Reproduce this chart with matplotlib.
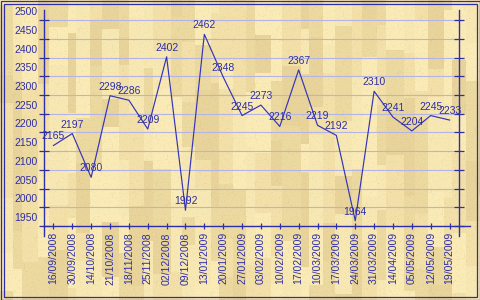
import numpy as np
import matplotlib
matplotlib.use("Agg")
import matplotlib.pyplot as plt
from matplotlib.transforms import ScaledTranslation
from matplotlib.patches import Rectangle

# data
dates = ["16/09/2008", "30/09/2008", "14/10/2008", "21/10/2008", "18/11/2008",
         "25/11/2008", "02/12/2008", "09/12/2008", "13/01/2009", "20/01/2009",
         "27/01/2009", "03/02/2009", "10/02/2009", "17/02/2009", "10/03/2009",
         "17/03/2009", "24/03/2009", "31/03/2009", "14/04/2009", "05/05/2009",
         "12/05/2009", "19/05/2009"]
values = [2165, 2197, 2080, 2298, 2286, 2209, 2402, 1992, 2462, 2348, 2245,
          2273, 2216, 2367, 2219, 2192, 1964, 2310, 2241, 2204, 2245, 2233]
y_ticks = list(range(1950, 2501, 50))

blue = "#2e2ea6"
font = "Liberation Sans"
fs = 7.5

# background "wood" texture (decoration only)
shades = np.array([[250, 234, 182], [242, 224, 168], [236, 217, 160], [247, 231, 178],
                   [232, 212, 154]]) / 255.0
stripe_w = [13, 9, 16, 11, 19, 8, 14, 12, 17, 10, 15, 9, 18, 11, 13, 16, 8, 14]
block_h = [45, 70, 28, 95, 55, 38, 80, 60]
tex = np.zeros((300, 480, 3))
x0, i = 0, 0
while x0 < 480:
    w = stripe_w[i % len(stripe_w)]
    y0, j = (i * 23) % 40 - 40, 0
    while y0 < 300:
        h = block_h[(i + j) % len(block_h)]
        c = shades[(i * 3 + j * 2 + (i * j) % 3) % len(shades)]
        tex[max(y0, 0):max(y0 + h, 0), x0:x0 + w] = c
        y0 += h
        j += 1
    x0 += w
    i += 1
yy, xx = np.mgrid[0:300, 0:480]
speck = ((xx * 13 + yy * 7 + (xx * yy) % 11) % 9 == 0)
tex[speck] *= 0.97

fig = plt.figure(figsize=(4.8, 3), dpi=100)
bg = fig.add_axes([0, 0, 1, 1])
bg.imshow(tex, aspect="auto", extent=[0, 480, 300, 0], interpolation="nearest")
bg.set_xlim(0, 480)
bg.set_ylim(300, 0)
bg.axis("off")

# double frame
for off in (0.5, 3.5):
    bg.add_patch(Rectangle((off, off), 480 - 2 * off, 300 - 2 * off, fill=False,
                           edgecolor=blue, lw=0.9))

ax = fig.add_axes([44 / 480, (300 - 226) / 300, 415 / 480, 216 / 300])
ax.patch.set_alpha(0)
x = np.arange(len(values))
ax.plot(x, values, color="#3434b8", lw=0.85, zorder=3)
for xi, v in zip(x, values):
    ax.annotate(str(v), (xi, v), xytext=(0, 6.5), textcoords="offset points",
                ha="center", va="center", fontsize=fs, family=font, color=blue, zorder=4)

ax.set_xlim(-0.5, len(values) - 0.5)
ax.set_ylim(1950, 2527)
ax.set_yticks(y_ticks)
ax.set_yticklabels([str(t) for t in y_ticks])
ax.set_xticks(x)
ax.set_xticklabels(dates, rotation=90)
ax.yaxis.grid(True, color="#b4b4e2", lw=0.8)
ax.set_axisbelow(True)
for s in ax.spines.values():
    s.set_visible(False)

ax.tick_params(axis="y", direction="inout", length=6.5, width=0.9, color=blue,
               right=True, labelcolor=blue, labelsize=fs, pad=1.5)
ax.tick_params(axis="x", direction="inout", length=5, width=0.9, color=blue,
               labelcolor=blue, labelsize=fs, pad=2)
for lab in ax.get_yticklabels() + ax.get_xticklabels():
    lab.set_family(font)
# the y labels sit half a step above their grid lines
for lab in ax.get_yticklabels():
    lab.set_transform(lab.get_transform() + ScaledTranslation(0, 0.09, fig.dpi_scale_trans))

# axis lines, crossing a little past each other
ax.plot([-0.003, 1.027], [0, 0], transform=ax.transAxes, color=blue, lw=1.0, clip_on=False)
ax.plot([0, 0], [-0.046, 1], transform=ax.transAxes, color=blue, lw=1.0, clip_on=False)
ax.plot([1, 1], [-0.046, 1], transform=ax.transAxes, color=blue, lw=1.0, clip_on=False)

fig.savefig("out.png", dpi=100)
